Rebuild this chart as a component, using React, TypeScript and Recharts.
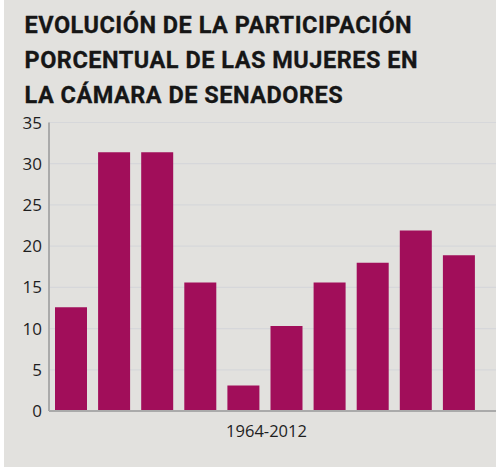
import React from "react";
import { BarChart, Bar, XAxis, YAxis, CartesianGrid, Label } from "recharts";

const periods = ["P1", "P2", "P3", "P4", "P5", "P6", "P7", "P8", "P9", "P10"];
const womenShare = [12.6, 31.4, 31.4, 15.6, 3.1, 10.3, 15.6, 18.0, 21.9, 18.9];
const yTicks = [0, 5, 10, 15, 20, 25, 30, 35];
const titleLines = [
  "EVOLUCIÓN DE LA PARTICIPACIÓN",
  "PORCENTUAL DE LAS MUJERES EN",
  "LA CÁMARA DE SENADORES",
];
const xLabel = "1964-2012";

const data = periods.map((p, i) => ({ period: p, value: womenShare[i] }));

export default function App() {
  return (
    <div
      style={{
        position: "fixed",
        left: 0,
        top: 0,
        width: 496,
        height: 467,
        background: "#ffffff",
      }}
    >
      <div
        style={{
          position: "absolute",
          left: 4,
          top: 0,
          width: 492,
          height: 467,
          background: "#e2e1de",
        }}
      />
      <svg
        width={496}
        height={120}
        style={{ position: "absolute", left: 0, top: 0 }}
      >
        {titleLines.map((t, i) => (
          <text
            key={i}
            x={24.5}
            y={32.5 + i * 35}
            fontFamily="Roboto, sans-serif"
            fontWeight={700}
            fontSize={23.5}
            letterSpacing={0.5}
            fill="#161616"
            stroke="#161616"
            strokeWidth={0.3}
          >
            {t}
          </text>
        ))}
      </svg>
      <div style={{ position: "absolute", left: 0, top: 0 }}>
        <BarChart
          width={496}
          height={467}
          data={data}
          margin={{ top: 122.5, right: 0, bottom: 16, left: 0 }}
        >
          <CartesianGrid
            vertical={false}
            stroke="#d6d7da"
            strokeWidth={1.2}
          />
          <XAxis
            dataKey="period"
            tick={false}
            tickLine={false}
            height={40}
            padding={{ left: 0, right: 16 }}
            axisLine={{ stroke: "#aaaaaa", strokeWidth: 2 }}
          >
            <Label
              value={xLabel}
              position="insideTop"
              offset={14}
              dx={-6}
              fill="#1e1e1e"
              fontSize={16.5}
              fontFamily="'Open Sans', sans-serif"
            />
          </XAxis>
          <YAxis
            domain={[0, 35]}
            ticks={yTicks}
            width={49}
            tickLine={false}
            tickSize={5}
            tickMargin={2}
            axisLine={{ stroke: "#aaaaaa", strokeWidth: 2 }}
            tick={{
              fill: "#1e1e1e",
              fontSize: 17,
              fontFamily: "'Open Sans', sans-serif",
            }}
            interval={0}
          />
          <Bar
            dataKey="value"
            fill="#a10e5a"
            barSize={32}
            isAnimationActive={false}
          />
        </BarChart>
      </div>
    </div>
  );
}
